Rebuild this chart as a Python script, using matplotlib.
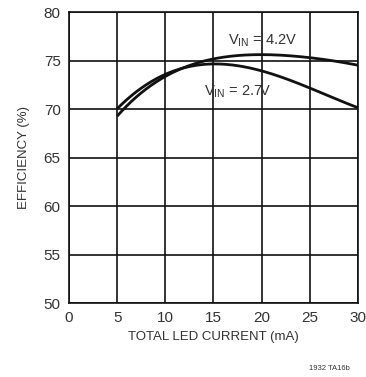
import matplotlib
matplotlib.use("Agg")
import matplotlib.pyplot as plt
import numpy as np
from matplotlib import font_manager

current = [5, 7.5, 10, 12.5, 15, 17.5, 20, 22.5, 25, 27.5, 30]
eff_27 = [70.1, 72.0, 73.6, 74.5, 74.7, 74.4, 73.9, 73.1, 72.2, 71.2, 70.1]
eff_42 = [69.3, 71.6, 73.4, 74.5, 75.2, 75.5, 75.6, 75.5, 75.3, 75.0, 74.5]
xticks = [0, 5, 10, 15, 20, 25, 30]
yticks = [50, 55, 60, 65, 70, 75, 80]

names = {f.name for f in font_manager.fontManager.ttflist}
fam = ["Liberation Sans Narrow", "DejaVu Sans"] if "Liberation Sans Narrow" in names else ["Liberation Sans", "DejaVu Sans"]
plt.rcParams["font.family"] = fam
txt = "#333333"

fig = plt.figure(figsize=(3.66, 3.77), dpi=100)
ax = fig.add_axes([0.1885, 0.196, 0.7895, 0.772])

# smooth curves through the read points
xs = np.linspace(5, 30, 200)
for y in (eff_27, eff_42):
    c = np.polyfit(current, y, 4)
    ax.plot(xs, np.polyval(c, xs), color="#111111", lw=2.0, solid_capstyle="butt")

ax.set_xlim(0, 30); ax.set_ylim(50, 80)
ax.set_xticks(xticks); ax.set_yticks(yticks)
ax.grid(color="#111111", lw=1.2)
for s in ax.spines.values():
    s.set_linewidth(1.2); s.set_color("#111111")
ax.tick_params(length=0, labelsize=11, labelcolor=txt, pad=6)
ax.set_xlabel("TOTAL LED CURRENT (mA)", fontsize=9.5, color=txt, labelpad=4)
ax.set_ylabel("EFFICIENCY (%)", fontsize=9.5, color=txt, labelpad=10)

ax.text(20.1, 77.1, r"V$_{\mathregular{IN}}$ = 4.2V", fontsize=10.5, color=txt, ha="center", va="center")
ax.text(17.5, 71.8, r"V$_{\mathregular{IN}}$ = 2.7V", fontsize=10.5, color=txt, ha="center", va="center")
fig.text(0.955, 0.014, "1932 TA16b", fontsize=5.5, color=txt, ha="right", va="bottom")

fig.savefig("out.png", dpi=100)
